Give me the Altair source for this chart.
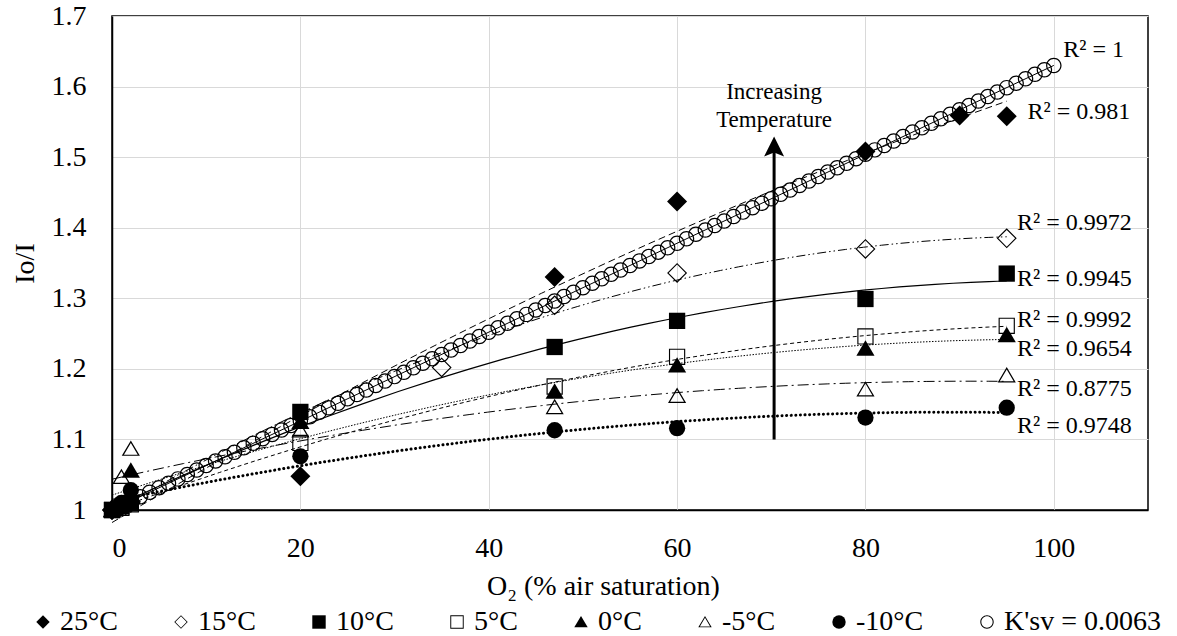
import altair as alt
import pandas as pd

FONT = "Liberation Serif"

series_names = ["25°C", "15°C", "10°C", "5°C", "0°C", "-5°C", "-10°C", "K'sv = 0.0063"]

x_25 = [0, 1, 2, 20, 47, 60, 80, 90, 95]
y_25 = [1.000, 1.005, 1.010, 1.048, 1.330, 1.437, 1.508, 1.559, 1.558]

x_15 = [0, 1, 2, 35, 47, 60, 80, 95]
y_15 = [1.000, 1.005, 1.012, 1.202, 1.290, 1.336, 1.370, 1.385]

x_10 = [0, 1, 2, 20, 47, 60, 80, 95]
y_10 = [1.000, 1.005, 1.010, 1.139, 1.231, 1.268, 1.299, 1.335]

x_5 = [0, 1, 2, 20, 47, 60, 80, 95]
y_5 = [1.000, 1.003, 1.008, 1.095, 1.175, 1.217, 1.246, 1.261]

x_0 = [0, 1, 2, 20, 47, 60, 80, 95]
y_0 = [1.000, 1.010, 1.056, 1.125, 1.168, 1.205, 1.229, 1.248]

x_m5 = [0, 1, 2, 20, 47, 60, 80, 95]
y_m5 = [1.000, 1.047, 1.087, 1.113, 1.146, 1.162, 1.171, 1.191]

x_m10 = [0, 1, 2, 20, 47, 60, 80, 95]
y_m10 = [1.000, 1.010, 1.028, 1.076, 1.113, 1.116, 1.131, 1.145]

x_ksv = list(range(0, 101))
y_ksv = [1.0000, 1.0063, 1.0126, 1.0189, 1.0252, 1.0315, 1.0378, 1.0441, 1.0504, 1.0567,
         1.0630, 1.0693, 1.0756, 1.0819, 1.0882, 1.0945, 1.1008, 1.1071, 1.1134, 1.1197,
         1.1260, 1.1323, 1.1386, 1.1449, 1.1512, 1.1575, 1.1638, 1.1701, 1.1764, 1.1827,
         1.1890, 1.1953, 1.2016, 1.2079, 1.2142, 1.2205, 1.2268, 1.2331, 1.2394, 1.2457,
         1.2520, 1.2583, 1.2646, 1.2709, 1.2772, 1.2835, 1.2898, 1.2961, 1.3024, 1.3087,
         1.3150, 1.3213, 1.3276, 1.3339, 1.3402, 1.3465, 1.3528, 1.3591, 1.3654, 1.3717,
         1.3780, 1.3843, 1.3906, 1.3969, 1.4032, 1.4095, 1.4158, 1.4221, 1.4284, 1.4347,
         1.4410, 1.4473, 1.4536, 1.4599, 1.4662, 1.4725, 1.4788, 1.4851, 1.4914, 1.4977,
         1.5040, 1.5103, 1.5166, 1.5229, 1.5292, 1.5355, 1.5418, 1.5481, 1.5544, 1.5607,
         1.5670, 1.5733, 1.5796, 1.5859, 1.5922, 1.5985, 1.6048, 1.6111, 1.6174, 1.6237,
         1.6300]

r2_texts = ["R² = 1", "R² = 0.981", "R² = 0.9972", "R² = 0.9945",
            "R² = 0.9992", "R² = 0.9654", "R² = 0.8775", "R² = 0.9748"]
r2_x = [101.0, 97.2, 96.1, 96.1, 96.1, 96.1, 96.1, 96.1]
r2_y = [1.6516, 1.5637, 1.407, 1.327, 1.269, 1.2276, 1.171, 1.119]

note_lines = ["Increasing", "Temperature"]
note_x = [70.3, 70.3]
note_y = [1.5925, 1.5524]

arrow_x = [70.3]
arrow_y0 = [1.10]
arrow_y1 = [1.515]

x_ticks = [0, 20, 40, 60, 80, 100]
y_ticks = [1.0, 1.1, 1.2, 1.3, 1.4, 1.5, 1.6, 1.7]

# ---- marker styles (open markers are ring-shaped paths so the lines show through) ----
TRI = "M0,-0.9L1,0.8L-1,0.8Z"
OPEN_DIAMOND = "M0,-1L1,0L0,1L-1,0Z M0,-0.84L-0.84,0L0,0.84L0.84,0Z"
OPEN_SQUARE = "M-1,-1L1,-1L1,1L-1,1Z M-0.86,-0.86L-0.86,0.86L0.86,0.86L0.86,-0.86Z"
OPEN_TRI = TRI + " M0,-0.628L-0.76,0.664L0.76,0.664Z"
OPEN_CIRCLE = ("M1,0A1,1,0,1,1,-1,0A1,1,0,1,1,1,0Z "
               "M0.84,0A0.84,0.84,0,1,0,-0.84,0A0.84,0.84,0,1,0,0.84,0Z")
shapes = ["diamond", OPEN_DIAMOND, "square", OPEN_SQUARE, TRI, OPEN_TRI, "circle", OPEN_CIRCLE]
marker_sizes = [400, 400, 265, 265, 330, 330, 265, 240]

# ---- tables ----
xs_all = [x_25, x_15, x_10, x_5, x_0, x_m5, x_m10, x_ksv]
ys_all = [y_25, y_15, y_10, y_5, y_0, y_m5, y_m10, y_ksv]
rows = []
order = [7, 0, 1, 2, 3, 4, 5, 6]  # K'sv first so it is drawn underneath
for i in order:
    for a, b in zip(xs_all[i], ys_all[i]):
        rows.append({"series": series_names[i], "x": a, "y": b, "msize": marker_sizes[i]})
df = pd.DataFrame(rows)

r2_df = pd.DataFrame({"x": r2_x, "y": r2_y, "t": r2_texts})
note_df = pd.DataFrame({"x": note_x, "y": note_y, "t": note_lines})
arrow_df = pd.DataFrame({"x": arrow_x, "y": arrow_y0, "y2": arrow_y1})

xscale = alt.Scale(domain=[0, 110], nice=False, zero=False)
yscale = alt.Scale(domain=[1.0, 1.7], nice=False, zero=False)

x_axis = alt.Axis(values=x_ticks, format="d", title="O₂ (% air saturation)",
                  labelFontSize=28, labelPadding=24, titleFontSize=28,
                  titleX=491, titleY=84, titleAlign="center", titleBaseline="alphabetic",
                  titleFontWeight="normal")
y_axis = alt.Axis(values=y_ticks, format="~g", title="Io/I",
                  labelFontSize=28, labelPadding=26, titleFontSize=28,
                  titleX=-87, titleY=247, titleAngle=270, titleAlign="center",
                  titleBaseline="middle", titleFontWeight="normal")

X = alt.X("x:Q", scale=xscale, axis=x_axis)
Y = alt.Y("y:Q", scale=yscale, axis=y_axis)

legend = alt.Legend(orient="none", legendX=-83, legendY=592, direction="horizontal",
                    columns=8, title=None, labelFont=FONT, labelFontSize=28,
                    labelColor="black", symbolSize=180, symbolFillColor="black",
                    symbolStrokeWidth=0, labelOffset=3, columnPadding=49, padding=0)

points = alt.Chart(df).mark_point(filled=True, color="black", opacity=1).encode(
    x=X, y=Y,
    shape=alt.Shape("series:N", scale=alt.Scale(domain=series_names, range=shapes), legend=legend),
    size=alt.Size("msize:Q", scale=None),
)

dashes = {
    "25°C": ([7, 4], 1.0),
    "15°C": ([9, 3, 1.5, 3, 1.5, 3], 1.0),
    "10°C": (None, 1.2),
    "5°C": ([4, 3], 1.0),
    "0°C": ([1.5, 1.5], 1.0),
    "-5°C": ([11, 4, 2, 4], 1.0),
    "-10°C": ([0.1, 4.5], 3.0),
}

layers = []
for name in series_names[:7]:
    dash, w = dashes[name]
    kw = dict(color="black", strokeWidth=w, strokeCap="round" if name == "-10°C" else "butt")
    if dash is not None:
        kw["strokeDash"] = dash
    ln = alt.Chart(df).transform_filter(alt.datum.series == name).transform_regression(
        "x", "y", method="poly", order=2).mark_line(**kw).encode(x=X, y=Y)
    layers.append(ln)

ksv_line = alt.Chart(df).transform_filter(alt.datum.series == series_names[7]).transform_regression(
    "x", "y", method="linear").mark_line(color="black", strokeWidth=1).encode(x=X, y=Y)

r2_layer = alt.Chart(r2_df).mark_text(align="left", baseline="middle", font=FONT,
                                      fontSize=24, color="black").encode(x=X, y=Y, text="t:N")
note_layer = alt.Chart(note_df).mark_text(align="center", baseline="middle", font=FONT,
                                          fontSize=23, color="black").encode(x=X, y=Y, text="t:N")
arrow_rule = alt.Chart(arrow_df).mark_rule(color="black", strokeWidth=3).encode(
    x=X, y=Y, y2="y2:Q")
arrow_head = alt.Chart(arrow_df).mark_point(shape="M0,-1L1,1L0,0.6L-1,1Z", size=400,
                                           filled=True, color="black", opacity=1).encode(
    x=X, y=alt.Y("y2:Q", scale=yscale, axis=y_axis))

chart = alt.layer(ksv_line, *layers, points, r2_layer, arrow_rule, arrow_head, note_layer).properties(
    width=1036, height=494,
    autosize=alt.AutoSizeParams(type="none"),
    padding={"left": 112, "top": 16, "right": 29, "bottom": 126},
    background="white",
).configure_axis(
    labelFont=FONT, titleFont=FONT, labelColor="black", titleColor="black",
    grid=True, gridColor="#d9d9d9", gridWidth=1, ticks=False, tickSize=0,
    domain=True, domainColor="black", domainWidth=1.5,
).configure_view(stroke="black", strokeWidth=1.5)

chart.save("out.html", embed_options={"renderer": "svg", "actions": False})
